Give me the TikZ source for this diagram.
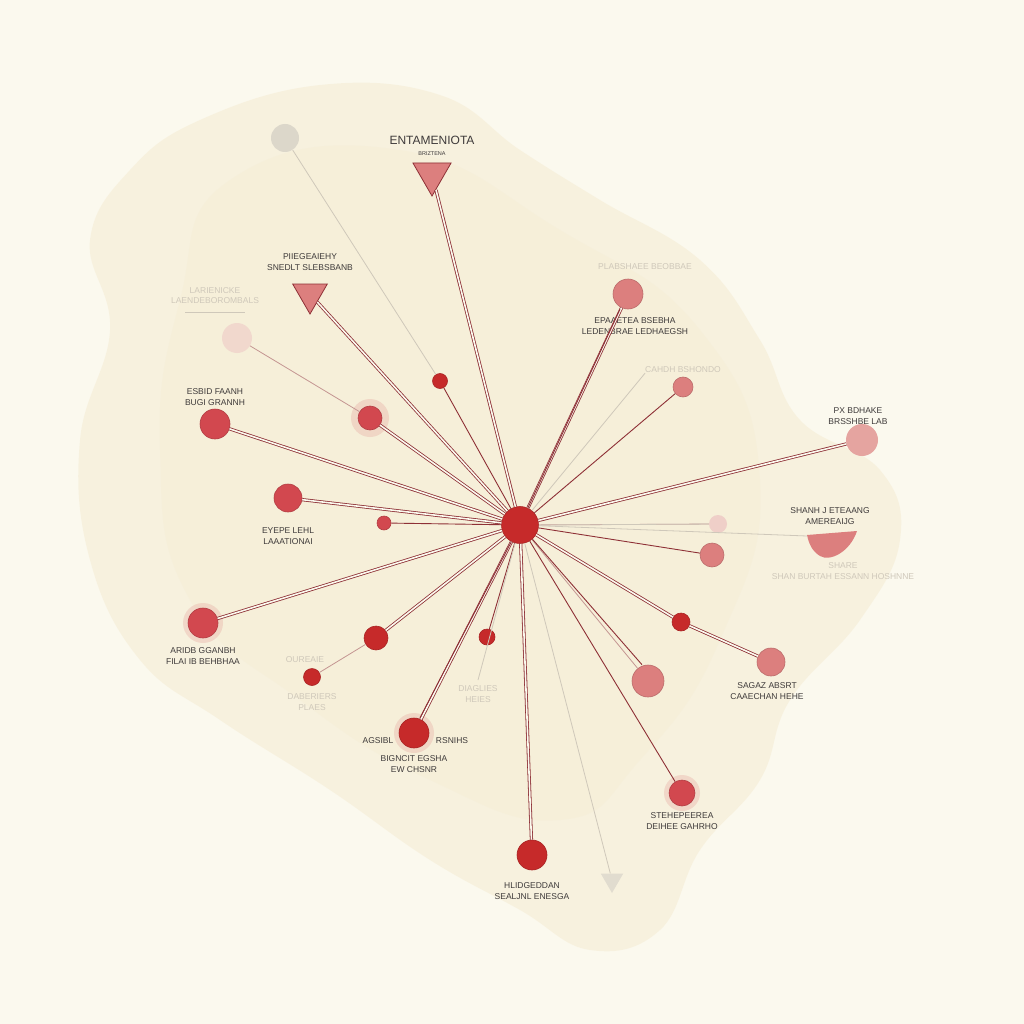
\documentclass[tikz,border=0pt]{standalone}
\usepackage{fontspec}
\setmainfont{Liberation Sans}
\usetikzlibrary{shapes.geometric}
\definecolor{bg}{HTML}{FBF9EE}
\definecolor{blot}{HTML}{F5ECD2}
\definecolor{hubred}{HTML}{C62A2A}
\definecolor{nodered}{HTML}{D2484F}
\definecolor{pinkred}{HTML}{DC7F7E}
\definecolor{palepink}{HTML}{EFCFC8}
\definecolor{linered}{HTML}{8E3036}
\definecolor{txt}{HTML}{3E3A3A}
\definecolor{faint}{HTML}{CFC8BA}
\tikzset{
  dot/.style={circle, fill=#1, draw=#1!85!black, line width=0.6pt, inner sep=0pt},
  halo/.style={circle, fill=pinkred, opacity=0.22, inner sep=0pt},
  lbl/.style={font=\fontsize{8.5}{10.5}\selectfont, text=txt, align=center, inner sep=0pt},
  flbl/.style={font=\fontsize{8.5}{10.5}\selectfont, text=faint, align=center, inner sep=0pt},
  dbl/.style={draw=linered, double=bg, double distance=1.6pt, line width=0.8pt},
  sgl/.style={draw=linered, line width=0.9pt},
  pl/.style={draw=linered!50!bg, line width=0.8pt},
  fl/.style={draw=faint, line width=0.8pt},
  tri/.style={regular polygon, regular polygon sides=3, shape border rotate=180, fill=pinkred, draw=linered, line width=0.8pt, inner sep=0pt}
}
\begin{document}
\begin{tikzpicture}[x=1pt,y=-1pt]
\fill[bg] (0,0) rectangle (1024,1024);
\useasboundingbox (0,0) rectangle (1024,1024);
% watercolor blot
\fill[blot, opacity=0.55] plot[smooth cycle, tension=0.7] coordinates {(200,120) (320,85) (440,95) (520,150) (600,200) (700,260) (760,340) (800,420) (880,470) (900,540) (860,620) (790,700) (760,780) (700,850) (660,930) (590,950) (520,910) (430,860) (330,790) (220,720) (140,660) (90,560) (80,440) (110,330) (90,240) (130,170)};
\fill[blot, opacity=0.35] plot[smooth cycle, tension=0.8] coordinates {(230,180) (400,150) (560,230) (700,330) (760,480) (720,640) (640,760) (560,820) (430,780) (300,700) (190,600) (160,450) (180,300)};

% hub
\node[dot=hubred, minimum size=37pt] (hub) at (520,525) {};

% nodes
\node[circle, fill=faint!70!bg, minimum size=28pt, inner sep=0pt] (g1) at (285,138) {};
\node[dot=hubred, minimum size=15pt] (s1) at (440,381) {};
\node[tri, minimum size=44pt] (t1) at (432,174) {};
\node[lbl, font=\fontsize{12}{14}\selectfont] (t1a) at (432,140) {ENTAMENIOTA};
\node[lbl, font=\fontsize{5.5}{6}\selectfont] (t1b) at (432,154) {BRIZTENA};
\node[tri, minimum size=40pt] (t2) at (310,294) {};
\node[lbl] (t2a) at (310,262) {PIIEGEAIEHY\\SNEDLT SLEBSBANB};
\node[flbl] (f1) at (215,300) {LARIENICKE\\LAENDEBOROMBALS\\[-2pt]\rule{60pt}{0.5pt}};
\node[circle, fill=palepink, opacity=0.7, minimum size=30pt, inner sep=0pt] (p1) at (237,338) {};
\node[halo, minimum size=38pt] at (370,418) {};
\node[dot=nodered, minimum size=24pt] (n5) at (370,418) {};
\node[dot=nodered, minimum size=30pt] (n6) at (215,424) {};
\node[lbl] (n6a) at (215,397) {ESBID FAANH\\BUGI GRANNH};
\node[dot=nodered, minimum size=28pt] (n7) at (288,498) {};
\node[lbl] (n7a) at (288,536) {EYEPE LEHL\\LAAATIONAI};
\node[dot=nodered, minimum size=14pt] (n8) at (384,523) {};
\node[halo, minimum size=40pt] at (203,623) {};
\node[dot=nodered, minimum size=30pt] (n9) at (203,623) {};
\node[lbl] (n9a) at (203,656) {ARIDB GGANBH\\FILAI IB BEHBHAA};
\node[dot=hubred, minimum size=24pt] (n10) at (376,638) {};
\node[dot=hubred, minimum size=17pt] (n10b) at (312,677) {};
\node[flbl] (n10c) at (305,660) {OUREAIE};
\node[flbl] (n10d) at (312,702) {DABERIERS\\PLAES};
\node[dot=hubred, minimum size=16pt] (n11) at (487,637) {};
\coordinate (n11e) at (478,680);
\node[flbl] (n11a) at (478,694) {DIAGLIES\\HEIES};
\node[halo, minimum size=40pt] at (414,733) {};
\node[dot=hubred, minimum size=30pt] (n12) at (414,733) {};
\node[lbl] (n12a) at (378,741) {AGSIBL};
\node[lbl] (n12b) at (452,741) {RSNIHS};
\node[lbl] (n12c) at (414,764) {BIGNCIT EGSHA\\EW CHSNR};
\node[dot=hubred, minimum size=30pt] (n13) at (532,855) {};
\node[lbl] (n13a) at (532,891) {HLIDGEDDAN\\SEALJNL ENESGA};
\node[regular polygon, regular polygon sides=3, shape border rotate=180, fill=faint!60!bg, minimum size=26pt, inner sep=0pt] (t3) at (612,880) {};
\node[halo, minimum size=36pt] at (682,793) {};
\node[dot=nodered, minimum size=26pt] (n15) at (682,793) {};
\node[lbl] (n15a) at (682,821) {STEHEPEEREA\\DEIHEE GAHRHO};
\node[dot=pinkred, minimum size=32pt] (n16) at (648,681) {};
\node[dot=hubred, minimum size=18pt] (n17) at (681,622) {};
\node[dot=pinkred, minimum size=28pt] (n18) at (771,662) {};
\node[lbl] (n18a) at (767,691) {SAGAZ ABSRT\\CAAECHAN HEHE};
\node[dot=pinkred, minimum size=24pt] (n19) at (712,555) {};
\node[circle, fill=palepink, minimum size=18pt, inner sep=0pt] (n20) at (718,524) {};
\fill[pinkred] (807,535) -- (857,531) .. controls (850,552) and (830,562) .. (820,556) .. controls (812,551) and (809,544) .. (807,535) -- cycle;
\coordinate (semi) at (807,536);
\node[lbl] (semia) at (830,516) {SHANH J ETEAANG\\AMEREAIJG};
\node[flbl] (semib) at (843,571) {SHARE\\SHAN BURTAH ESSANN HOSHNNE};
\node[circle, fill=pinkred!70!bg, minimum size=32pt, inner sep=0pt] (n21) at (862,440) {};
\node[lbl] (n21a) at (858,416) {PX BDHAKE\\BRSSHBE LAB};
\node[dot=pinkred, minimum size=20pt] (n22) at (683,387) {};
\node[flbl] (n22a) at (683,370) {CAHDH BSHONDO};
\node[dot=pinkred, minimum size=30pt] (n23) at (628,294) {};
\node[flbl] (n23a) at (645,267) {PLABSHAEE BEOBBAE};
\node[lbl] (n23b) at (635,326) {EPAAETEA BSEBHA\\LEDENBRAE LEDHAEGSH};

% connectors
\draw[fl] (g1) -- (s1);
\draw[sgl] (s1) -- (hub);
\draw[dbl] (t1) -- (hub);
\draw[dbl] (t2) -- (hub);
\draw[pl] (p1) -- (n5);
\draw[dbl] (n5) -- (hub);
\draw[dbl] (n6) -- (hub);
\draw[dbl] (n7) -- (hub);
\draw[sgl] (n8) -- (hub);
\draw[dbl] (n9) -- (hub);
\draw[dbl] (n10) -- (hub);
\draw[pl] (n10b) -- (n10);
\draw[sgl] (n11) -- (hub);
\draw[fl] (hub) -- (n11e);
\draw[dbl] (n12) -- (hub);
\draw[sgl] ([xshift=6pt]n12.north) -- (hub);
\draw[dbl] (n13) -- (hub);
\draw[fl] (hub) -- (t3);
\draw[sgl] (n15) -- (hub);
\draw[pl] (n16) -- (hub);
\draw[sgl] ([xshift=-6pt]n16.north) -- (hub);
\draw[dbl] (n18) -- (n17);
\draw[dbl] (n17) -- (hub);
\draw[sgl] (n19) -- (hub);
\draw[pl] (n20) -- (hub);
\draw[fl] (n20) -- (hub.east);
\draw[fl] (semi) -- (hub);
\draw[dbl] (n21) -- (hub);
\draw[sgl] (n22) -- (hub);
\draw[fl] (n22a.south west) -- (hub);
\draw[dbl] (n23) -- (hub);
\draw[sgl] ([xshift=-8pt]n23.south) -- (hub);
\end{tikzpicture}
\end{document}
